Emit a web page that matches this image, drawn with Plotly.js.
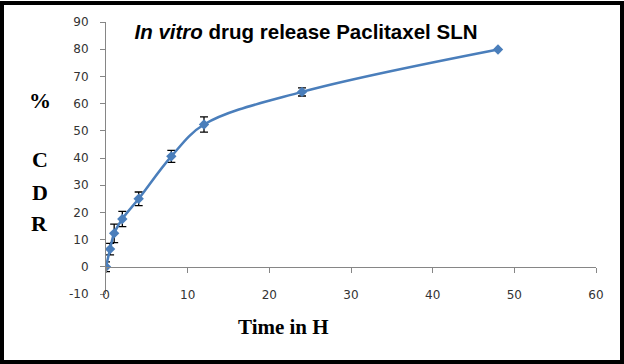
<!DOCTYPE html>
<html>
<head>
<meta charset="utf-8">
<script src="https://cdn.plot.ly/plotly-3.0.1.min.js"></script>
<style>
  html, body { margin: 0; padding: 0; background: #fff; }
  #wrap { position: relative; width: 624px; height: 364px; }
  #chart { width: 624px; height: 364px; }
  #frame { position: absolute; left: 0; top: 1px; width: 624px; height: 363px; box-sizing: border-box; border: 4px solid #000; pointer-events: none; }
</style>
</head>
<body>
<div id="wrap"><div id="chart"></div><div id="frame"></div></div>
<script>
// Data
const timeH = [0, 0.5, 1, 2, 4, 8, 12, 24, 48];
const cdr   = [0, 6.5, 12.3, 17.6, 25, 40.6, 52.3, 64.3, 79.9];
const cdrErr = [1.8, 2.1, 3.4, 2.8, 2.5, 2.2, 2.8, 1.5, 0];
const xTicks = [0, 10, 20, 30, 40, 50, 60];
const yTicks = [-10, 0, 10, 20, 30, 40, 50, 60, 70, 80, 90];
const titleText = '<b><i>In vitro</i> drug release Paclitaxel SLN</b>';
const xTitle = 'Time in H';
const yTitleParts = ['%', 'C', 'D', 'R'];

const blue = '#4A7EBB';
const axisGray = '#868686';
const tickFont = { family: 'DejaVu Sans, Verdana, sans-serif', size: 12, color: '#333' };
const serifBold = { family: 'Liberation Serif, Times New Roman, serif', size: 22, color: '#000' };

const traces = [
  {
    x: timeH, y: cdr, type: 'scatter', mode: 'lines+markers',
    xaxis: 'x', yaxis: 'y',
    line: { color: blue, width: 2.5, shape: 'spline', smoothing: 1 },
    marker: { symbol: 'diamond', size: 8, color: blue },
    error_y: { type: 'data', array: cdrErr, visible: true, color: '#000', thickness: 1.3, width: 4 },
    hoverinfo: 'skip', showlegend: false
  },
  {
    x: timeH, y: cdr, type: 'scatter', mode: 'markers',
    xaxis: 'x2', yaxis: 'y',
    marker: { opacity: 0 }, hoverinfo: 'skip', showlegend: false
  }
];

const yPaper = [0.713, 0.496, 0.375, 0.261];
const annotations = yTitleParts.map((t, i) => ({
  text: '<b>' + t + '</b>', xref: 'paper', yref: 'paper',
  x: -0.135, y: yPaper[i], xanchor: 'center', yanchor: 'middle',
  showarrow: false, font: serifBold
}));
annotations.push({
  text: '<b>' + xTitle + '</b>', xref: 'paper', yref: 'paper',
  x: (283 - 106) / 490, y: -(327 - 294) / 272, xanchor: 'center', yanchor: 'middle',
  showarrow: false, font: Object.assign({}, serifBold, { size: 21 })
});

const layout = {
  width: 624, height: 364,
  margin: { l: 106, r: 28, t: 22, b: 70 },
  paper_bgcolor: '#fff', plot_bgcolor: '#fff',
  showlegend: false,
  title: {
    text: titleText, xref: 'container', yref: 'container',
    x: 306 / 624, y: 1 - 32 / 364, xanchor: 'center', yanchor: 'middle',
    font: { family: 'Liberation Sans, Arial, sans-serif', size: 20.5, color: '#000' }
  },
  xaxis: {
    range: [0, 60], anchor: 'free', position: 0.1,
    showline: true, linecolor: axisGray, linewidth: 1,
    ticks: 'outside', ticklen: 5, tickcolor: axisGray,
    tickvals: xTicks, showticklabels: false,
    showgrid: false, zeroline: false, fixedrange: true
  },
  xaxis2: {
    range: [0, 60], overlaying: 'x', anchor: 'free', position: 0.03,
    showline: false, ticks: '', tickvals: xTicks, ticktext: xTicks.map(String),
    tickfont: tickFont, showgrid: false, zeroline: false, fixedrange: true
  },
  yaxis: {
    range: [-10, 90], showline: true, linecolor: axisGray, linewidth: 1,
    ticks: 'outside', ticklen: 5, tickcolor: axisGray,
    tickvals: yTicks, ticktext: yTicks.map(String), tickfont: tickFont,
    ticklabelstandoff: 9,
    showgrid: false, zeroline: false, fixedrange: true
  },
  annotations: annotations
};

Plotly.newPlot('chart', traces, layout, { displayModeBar: false, staticPlot: true });
</script>
</body>
</html>
